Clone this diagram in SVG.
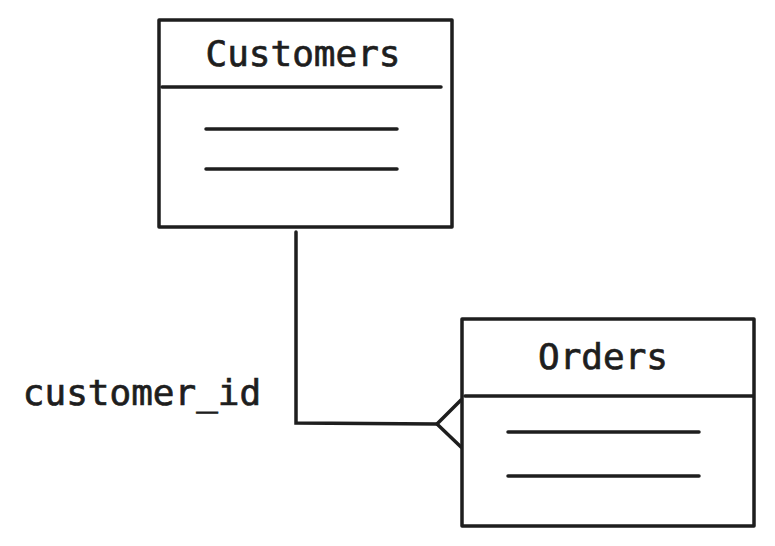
<svg xmlns="http://www.w3.org/2000/svg" width="775" height="546" viewBox="0 0 775 546">
<style>
.box{fill:#fff;stroke:#1e1e1e;stroke-width:3.5;stroke-linejoin:round}
.ln{stroke:#1e1e1e;stroke-width:3.5;stroke-linecap:round;fill:none}
.t{font-family:"DejaVu Sans Mono","Liberation Mono",monospace;font-size:36px;fill:#1e1e1e;stroke:#1e1e1e;stroke-width:0.7;text-anchor:middle}
</style>
<rect width="775" height="546" fill="#fff"/>
<g id="connectors">
<path class="ln" d="M296,232 L296,423 L437,424"/>
<path class="ln" d="M461,400 L437,424 L461,447"/>
</g>
<g id="customers">
<rect class="box" x="159" y="20" width="293" height="207"/>
<line class="ln" x1="162" y1="87" x2="441" y2="87"/>
<line class="ln" x1="206" y1="129" x2="397" y2="129"/>
<line class="ln" x1="206" y1="169" x2="397" y2="169"/>
<text class="t" x="303" y="66">Customers</text>
</g>
<g id="orders">
<rect class="box" x="462" y="319" width="292" height="207"/>
<line class="ln" x1="465" y1="396" x2="753" y2="396"/>
<line class="ln" x1="508" y1="432" x2="699" y2="432"/>
<line class="ln" x1="508" y1="476" x2="699" y2="476"/>
<text class="t" x="603" y="369">Orders</text>
</g>
<g id="label">
<text class="t" x="142" y="405">customer_id</text>
</g>
</svg>
